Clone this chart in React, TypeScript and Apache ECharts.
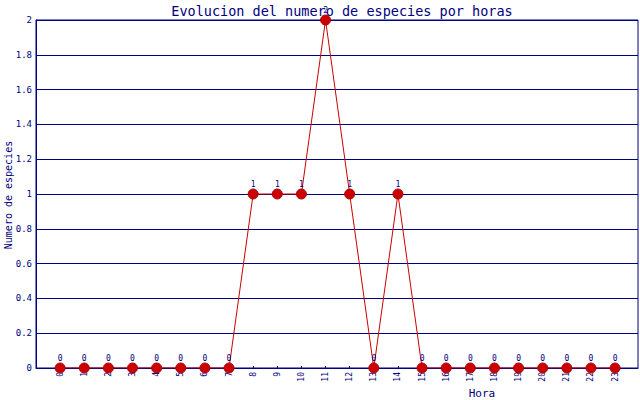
import React, { useEffect, useRef } from "react";
import * as echarts from "echarts";

const hours = [0, 1, 2, 3, 4, 5, 6, 7, 8, 9, 10, 11, 12, 13, 14, 15, 16, 17, 18, 19, 20, 21, 22, 23];
const species = [0, 0, 0, 0, 0, 0, 0, 0, 1, 1, 1, 2, 1, 0, 1, 0, 0, 0, 0, 0, 0, 0, 0, 0];
const titleText = "Evolucion del numero de especies por horas";
const yName = "Numero de especies";
const xName = "Hora";

const NAVY = "#000080";
const FONT = "'DejaVu Sans Mono', 'Liberation Mono', monospace";

export default function App() {
  const ref = useRef<HTMLDivElement>(null);
  useEffect(() => {
    if (!ref.current) return;
    const chart = echarts.init(ref.current, null, { renderer: "svg" });
    chart.setOption({
      animation: false,
      backgroundColor: "#ffffff",
      title: {
        text: titleText,
        left: 337,
        textAlign: "center",
        top: -1,
        textStyle: { color: NAVY, fontFamily: FONT, fontSize: 13.5, fontWeight: "normal" },
      },
      grid: {
        left: 36,
        right: 2,
        top: 20,
        bottom: 32,
        show: true,
        borderColor: NAVY,
        borderWidth: 1,
        backgroundColor: "transparent",
        containLabel: false,
        outerBoundsMode: "none",
      },
      graphic: [
        {
          type: "text",
          x: 482,
          y: 393,
          style: {
            text: xName,
            fill: NAVY,
            font: "11px " + FONT,
            align: "center",
            verticalAlign: "middle",
          },
        },
        {
          type: "text",
          x: 8,
          y: 195,
          rotation: Math.PI / 2,
          style: {
            text: yName,
            fill: NAVY,
            font: "10px " + FONT,
            align: "center",
            verticalAlign: "middle",
          },
        },
      ],
      xAxis: {
        type: "value",
        min: -1,
        max: 23.95,
        interval: 1,
        axisLine: { show: true, onZero: false, lineStyle: { color: NAVY, width: 1 } },
        axisTick: { show: true, inside: true, length: 2, lineStyle: { color: NAVY } },
        splitLine: { show: false },
        axisLabel: {
          rotate: 90,
          color: NAVY,
          fontFamily: FONT,
          fontSize: 8,
          margin: 4,
          showMaxLabel: false,
          formatter: (v: number) =>
            v >= 0 && v <= 23 && Math.abs(v - Math.round(v)) < 1e-6 ? String(Math.round(v)) : "",
        },
      },
      yAxis: {
        type: "value",
        min: 0,
        max: 2,
        interval: 0.2,
        axisLine: { show: true, onZero: false, lineStyle: { color: NAVY, width: 1 } },
        axisTick: { show: false },
        splitLine: { show: true, lineStyle: { color: NAVY, width: 1 } },
        axisLabel: {
          color: NAVY,
          fontFamily: FONT,
          fontSize: 9,
          margin: 4,
          formatter: (v: number) => String(Math.round(v * 10) / 10),
        },
      },
      series: [
        {
          type: "line",
          data: hours.map((h, i) => [h, species[i]]),
          symbol: "circle",
          symbolSize: 10,
          lineStyle: { color: "#cc0000", width: 1 },
          itemStyle: { color: "#cc0000", borderColor: "#aa0000", borderWidth: 1 },
          label: {
            show: true,
            position: "top",
            distance: 0,
            color: NAVY,
            fontFamily: FONT,
            fontSize: 8,
            formatter: (p: any) => String(p.value[1]),
          },
          z: 5,
        },
      ],
    });
    return () => chart.dispose();
  }, []);
  return (
    <div
      ref={ref}
      style={{ position: "fixed", left: 0, top: 0, width: 640, height: 400 }}
    />
  );
}
